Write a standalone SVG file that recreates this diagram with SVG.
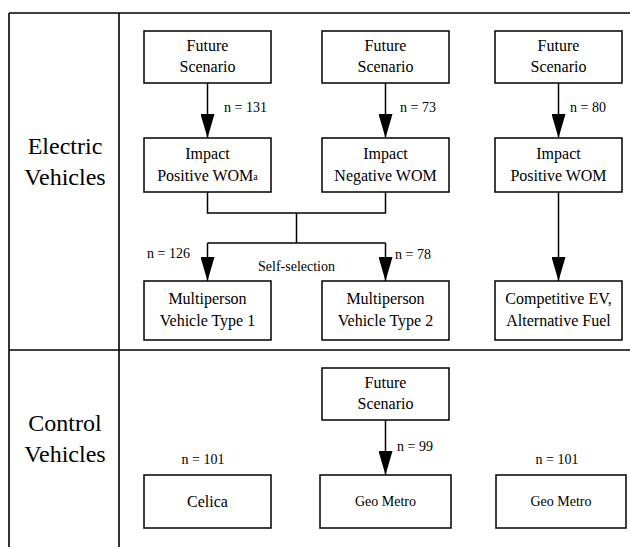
<svg xmlns="http://www.w3.org/2000/svg" width="630" height="547" viewBox="0 0 630 547">
<style>
text{font-family:'Liberation Serif','DejaVu Serif',serif;fill:#000}
.frame{stroke:#000;stroke-width:1.6;fill:none}
.box{fill:#fff;stroke:#000;stroke-width:1.5}
.t{font-size:16px;text-anchor:middle}
.big{font-size:24px;text-anchor:middle}
.lbl{font-size:14px}
.gm{font-size:14px;text-anchor:middle}
.c{stroke:#000;stroke-width:1.5;fill:none}
</style>
<defs>
<marker id="ah" viewBox="0 0 24 14" refX="24" refY="7" markerWidth="24" markerHeight="14" markerUnits="userSpaceOnUse" orient="auto">
<path d="M0,0 L24,7 L0,14 Z" fill="#000"/>
</marker>
</defs>
<rect width="630" height="547" fill="#fff"/>
<g id="frame">
<line class="frame" x1="9" y1="13" x2="630" y2="13"/>
<line class="frame" x1="9" y1="13" x2="9" y2="547"/>
<line class="frame" x1="119" y1="13" x2="119" y2="547"/>
<line class="frame" x1="9" y1="350" x2="630" y2="350"/>
</g>
<g id="row-labels">
<text class="big" x="65" y="154">Electric</text>
<text class="big" x="65" y="185">Vehicles</text>
<text class="big" x="65" y="431">Control</text>
<text class="big" x="65" y="462">Vehicles</text>
</g>
<g id="connectors">
<line class="c" x1="207.5" y1="83" x2="207.5" y2="138" marker-end="url(#ah)"/>
<line class="c" x1="385.5" y1="83" x2="385.5" y2="138" marker-end="url(#ah)"/>
<line class="c" x1="558.5" y1="83" x2="558.5" y2="138" marker-end="url(#ah)"/>
<polyline class="c" points="207.5,192 207.5,213 385.5,213 385.5,192"/>
<line class="c" x1="296.5" y1="213" x2="296.5" y2="243"/>
<line class="c" x1="207.5" y1="243" x2="385.5" y2="243"/>
<line class="c" x1="207.5" y1="243" x2="207.5" y2="281" marker-end="url(#ah)"/>
<line class="c" x1="385.5" y1="243" x2="385.5" y2="281" marker-end="url(#ah)"/>
<line class="c" x1="558.5" y1="192" x2="558.5" y2="281" marker-end="url(#ah)"/>
<line class="c" x1="385.5" y1="420" x2="385.5" y2="475" marker-end="url(#ah)"/>
<text class="lbl" x="224" y="112">n = 131</text>
<text class="lbl" x="400" y="112">n = 73</text>
<text class="lbl" x="570" y="112">n = 80</text>
<text class="lbl" x="147" y="258">n = 126</text>
<text class="lbl" x="395" y="259">n = 78</text>
<text class="lbl" x="258" y="271">Self-selection</text>
<text class="lbl" x="397" y="451">n = 99</text>
<text class="lbl" x="203" y="464" text-anchor="middle">n = 101</text>
<text class="lbl" x="557" y="464" text-anchor="middle">n = 101</text>
</g>
<g id="ev-future-1">
<rect class="box" x="144" y="31" width="127" height="52"/>
<text class="t" x="207.5" y="51">Future</text>
<text class="t" x="207.5" y="72">Scenario</text>
</g>
<g id="ev-future-2">
<rect class="box" x="322" y="31" width="127" height="52"/>
<text class="t" x="385.5" y="51">Future</text>
<text class="t" x="385.5" y="72">Scenario</text>
</g>
<g id="ev-future-3">
<rect class="box" x="495" y="31" width="127" height="52"/>
<text class="t" x="558.5" y="51">Future</text>
<text class="t" x="558.5" y="72">Scenario</text>
</g>
<g id="impact-positive-1">
<rect class="box" x="144" y="138" width="127" height="54"/>
<text class="t" x="207.5" y="159">Impact</text>
<text class="t" x="207.5" y="181">Positive WOM<tspan font-size="10" dy="-1">a</tspan></text>
</g>
<g id="impact-negative">
<rect class="box" x="322" y="138" width="127" height="54"/>
<text class="t" x="385.5" y="159">Impact</text>
<text class="t" x="385.5" y="181">Negative WOM</text>
</g>
<g id="impact-positive-3">
<rect class="box" x="495" y="138" width="127" height="54"/>
<text class="t" x="558.5" y="159">Impact</text>
<text class="t" x="558.5" y="181">Positive WOM</text>
</g>
<g id="multiperson-1">
<rect class="box" x="144" y="281" width="127" height="59"/>
<text class="t" x="207.5" y="304">Multiperson</text>
<text class="t" x="207.5" y="326">Vehicle Type 1</text>
</g>
<g id="multiperson-2">
<rect class="box" x="322" y="281" width="127" height="59"/>
<text class="t" x="385.5" y="304">Multiperson</text>
<text class="t" x="385.5" y="326">Vehicle Type 2</text>
</g>
<g id="competitive-ev">
<rect class="box" x="495" y="281" width="127" height="59"/>
<text class="t" x="558.5" y="304">Competitive EV,</text>
<text class="t" x="558.5" y="326">Alternative Fuel</text>
</g>
<g id="control-future">
<rect class="box" x="322" y="368" width="127" height="52"/>
<text class="t" x="385.5" y="388">Future</text>
<text class="t" x="385.5" y="409">Scenario</text>
</g>
<g id="celica">
<rect class="box" x="144" y="475" width="127" height="53"/>
<text class="t" x="207.5" y="507">Celica</text>
</g>
<g id="geo-metro-1">
<rect class="box" x="320" y="475" width="131" height="53"/>
<text class="gm" x="385.5" y="506">Geo Metro</text>
</g>
<g id="geo-metro-2">
<rect class="box" x="496" y="475" width="130" height="53"/>
<text class="gm" x="561" y="506">Geo Metro</text>
</g>
</svg>
